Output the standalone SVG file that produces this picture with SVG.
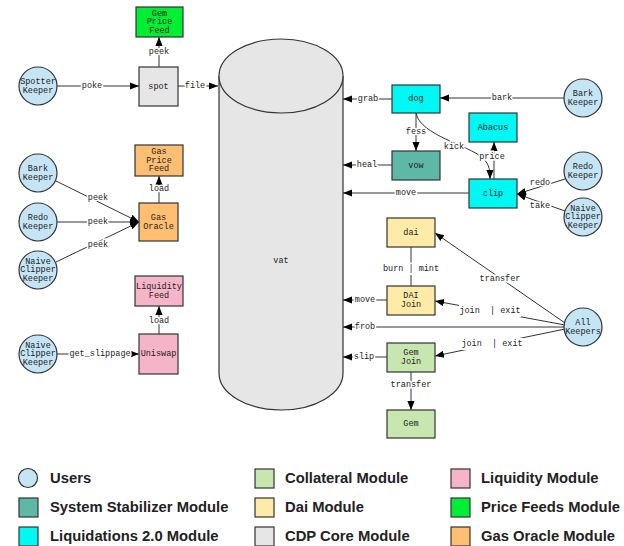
<svg xmlns="http://www.w3.org/2000/svg" width="624" height="546" viewBox="0 0 624 546">
<style>
.n{stroke:#333;stroke-width:1.2}
.t{font-family:"Liberation Mono",monospace;font-size:8.5px;fill:#222;text-anchor:middle;dominant-baseline:central}
.l{font-family:"Liberation Mono",monospace;font-size:8.5px;fill:#222;text-anchor:middle;dominant-baseline:central;stroke:#fff;stroke-width:3;paint-order:stroke;white-space:pre}
.bg{fill:#fff}
.e{fill:none;stroke:#333;stroke-width:1}
.a{marker-end:url(#ah)}
.lg{font-family:"Liberation Sans",Arial,sans-serif;font-size:14.8px;font-weight:bold;fill:#222;dominant-baseline:central}
.u{fill:#c5e5f6}.ss{fill:#5eb8a6}.lq{fill:#00f8f4}.co{fill:#c8e6b0}.da{fill:#ffeaa8}.cd{fill:#e6e6e6}.li{fill:#f5b4c8}.pf{fill:#00ee33}.go{fill:#ffbf73}
</style>
<defs>
<marker id="ah" viewBox="0 0 10 10" refX="10" refY="5" markerWidth="9" markerHeight="9" markerUnits="userSpaceOnUse" orient="auto"><path d="M0,1 L10,5 L0,9 z" fill="#000"/></marker>
</defs>
<g id="connectors">
<line class="e a" x1="57" y1="86" x2="139" y2="86"/>
<line class="e a" x1="178" y1="86" x2="218" y2="86"/>
<line class="e a" x1="159" y1="67" x2="159" y2="37"/>
<line class="e a" x1="159" y1="203" x2="159" y2="176"/>
<line class="e a" x1="56" y1="181" x2="139" y2="222"/>
<line class="e a" x1="57" y1="222" x2="139" y2="222"/>
<line class="e a" x1="56" y1="262" x2="139" y2="222"/>
<line class="e a" x1="159" y1="334" x2="159" y2="306"/>
<line class="e a" x1="57" y1="354" x2="139" y2="354"/>
<line class="e a" x1="392" y1="99" x2="343" y2="99"/>
<line class="e a" x1="564" y1="98" x2="440" y2="98"/>
<line class="e a" x1="416" y1="113" x2="416" y2="151"/>
<path class="e a" d="M416,113 C420,135 468,145 483,158 C490,165 490,172 490,179"/>
<line class="e a" x1="494" y1="179" x2="494" y2="142"/>
<line class="e a" x1="392" y1="165" x2="343" y2="165"/>
<line class="e a" x1="469" y1="193" x2="343" y2="193"/>
<line class="e a" x1="565" y1="179" x2="517" y2="194"/>
<line class="e a" x1="565" y1="211" x2="517" y2="194"/>
<line class="e" x1="411" y1="247" x2="411" y2="286"/>
<line class="e a" x1="387" y1="300" x2="343" y2="300"/>
<line class="e a" x1="565" y1="323" x2="435" y2="233"/>
<line class="e a" x1="565" y1="325" x2="435" y2="301"/>
<line class="e a" x1="564" y1="327" x2="343" y2="327"/>
<line class="e a" x1="565" y1="329" x2="435" y2="356"/>
<line class="e a" x1="387" y1="357" x2="343" y2="357"/>
<line class="e a" x1="411" y1="372" x2="411" y2="410"/>
<rect class="bg" x="383" y="263" width="56" height="12"/>
<rect class="bg" x="69" y="348" width="62" height="12"/>
<rect class="bg" x="459" y="305" width="62" height="12"/>
<rect class="bg" x="461" y="338" width="62" height="12"/>
<text class="l" x="92" y="86">poke</text>
<text class="l" x="195" y="86">file</text>
<text class="l" x="159" y="52">peek</text>
<text class="l" x="159" y="189">load</text>
<text class="l" x="98" y="198">peek</text>
<text class="l" x="98" y="222">peek</text>
<text class="l" x="98" y="245">peek</text>
<text class="l" x="159" y="321">load</text>
<text class="l" x="100" y="354">get_slippage</text>
<text class="l" x="368" y="99">grab</text>
<text class="l" x="502" y="98">bark</text>
<text class="l" x="416" y="132">fess</text>
<text class="l" x="454" y="147">kick</text>
<text class="l" x="492" y="157">price</text>
<text class="l" x="367" y="165">heal</text>
<text class="l" x="406" y="193">move</text>
<text class="l" x="540" y="183">redo</text>
<text class="l" x="540" y="206">take</text>
<text class="l" x="411" y="269">burn | mint</text>
<text class="l" x="365" y="300">move</text>
<text class="l" x="500" y="279">transfer</text>
<text class="l" x="490" y="311">join  | exit</text>
<text class="l" x="365" y="327">frob</text>
<text class="l" x="492" y="344">join  | exit</text>
<text class="l" x="364" y="357">slip</text>
<text class="l" x="411" y="385">transfer</text>
</g>
<g id="vat">
<path class="n cd" d="M219,76 L219,373 A62,37 0 0 0 343,373 L343,76"/>
<ellipse class="n cd" cx="281" cy="76" rx="62" ry="37"/>
<text class="t" x="281" y="261">vat</text>
</g>
<g id="gem-price-feed"><rect class="n pf" x="136" y="7" width="47" height="30"/><text class="t" x="159.5" y="13.5">Gem</text><text class="t" x="159.5" y="22">Price</text><text class="t" x="159.5" y="30.5">Feed</text></g>
<g id="spot"><rect class="n cd" x="139" y="67" width="39" height="39"/><text class="t" x="158.5" y="86.5">spot</text></g>
<g id="spotter-keeper"><circle class="n u" cx="38" cy="86" r="19"/><text class="t" x="38" y="82">Spotter</text><text class="t" x="38" y="90.5">Keeper</text></g>
<g id="gas-price-feed"><rect class="n go" x="135" y="145" width="48" height="31"/><text class="t" x="159" y="152">Gas</text><text class="t" x="159" y="160.5">Price</text><text class="t" x="159" y="169">Feed</text></g>
<g id="gas-oracle"><rect class="n go" x="139" y="203" width="39" height="38"/><text class="t" x="158.5" y="218">Gas</text><text class="t" x="158.5" y="226.5">Oracle</text></g>
<g id="bark-keeper-l"><circle class="n u" cx="38" cy="173" r="19"/><text class="t" x="38" y="169">Bark</text><text class="t" x="38" y="177.5">Keeper</text></g>
<g id="redo-keeper-l"><circle class="n u" cx="38" cy="222" r="19"/><text class="t" x="38" y="218">Redo</text><text class="t" x="38" y="226.5">Keeper</text></g>
<g id="naive-clipper-keeper-l1"><circle class="n u" cx="38" cy="270" r="19"/><text class="t" x="38" y="261.5">Naive</text><text class="t" x="38" y="270">Clipper</text><text class="t" x="38" y="278.5">Keeper</text></g>
<g id="liquidity-feed"><rect class="n li" x="135" y="276" width="48" height="30"/><text class="t" x="159" y="287">Liquidity</text><text class="t" x="159" y="295.5">Feed</text></g>
<g id="uniswap"><rect class="n li" x="139" y="334" width="39" height="40"/><text class="t" x="158.5" y="354">Uniswap</text></g>
<g id="naive-clipper-keeper-l2"><circle class="n u" cx="38" cy="354" r="19"/><text class="t" x="38" y="345.5">Naive</text><text class="t" x="38" y="354">Clipper</text><text class="t" x="38" y="362.5">Keeper</text></g>
<g id="dog"><rect class="n lq" x="392" y="85" width="48" height="28"/><text class="t" x="416" y="99">dog</text></g>
<g id="abacus"><rect class="n lq" x="469" y="113" width="48" height="29"/><text class="t" x="493" y="127.5">Abacus</text></g>
<g id="vow"><rect class="n ss" x="392" y="151" width="48" height="29"/><text class="t" x="416" y="165.5">vow</text></g>
<g id="clip"><rect class="n lq" x="469" y="179" width="48" height="29"/><text class="t" x="493" y="193.5">clip</text></g>
<g id="bark-keeper-r"><circle class="n u" cx="583" cy="98" r="19"/><text class="t" x="583" y="94">Bark</text><text class="t" x="583" y="102.5">Keeper</text></g>
<g id="redo-keeper-r"><circle class="n u" cx="583" cy="171" r="19"/><text class="t" x="583" y="167">Redo</text><text class="t" x="583" y="175.5">Keeper</text></g>
<g id="naive-clipper-keeper-r"><circle class="n u" cx="583" cy="217" r="19"/><text class="t" x="583" y="208.5">Naive</text><text class="t" x="583" y="217">Clipper</text><text class="t" x="583" y="225.5">Keeper</text></g>
<g id="dai"><rect class="n da" x="387" y="218" width="48" height="29"/><text class="t" x="411" y="232.5">dai</text></g>
<g id="dai-join"><rect class="n da" x="387" y="286" width="48" height="29"/><text class="t" x="411" y="296">DAI</text><text class="t" x="411" y="304.5">Join</text></g>
<g id="all-keepers"><circle class="n u" cx="583" cy="327" r="19"/><text class="t" x="583" y="323">All</text><text class="t" x="583" y="331.5">Keepers</text></g>
<g id="gem-join"><rect class="n co" x="387" y="343" width="48" height="29"/><text class="t" x="411" y="353">Gem</text><text class="t" x="411" y="361.5">Join</text></g>
<g id="gem"><rect class="n co" x="387" y="410" width="48" height="28"/><text class="t" x="411" y="424">Gem</text></g>
<g id="legend">
<circle class="n u" cx="28" cy="478" r="9.5"/><text class="lg" x="50" y="478">Users</text>
<rect class="n ss" x="19" y="498" width="19" height="19"/><text class="lg" x="50" y="507">System Stabilizer Module</text>
<rect class="n lq" x="19" y="527" width="19" height="19"/><text class="lg" x="50" y="536">Liquidations 2.0 Module</text>
<rect class="n co" x="255" y="469" width="19" height="19"/><text class="lg" x="285" y="478">Collateral Module</text>
<rect class="n da" x="255" y="498" width="19" height="19"/><text class="lg" x="285" y="507">Dai Module</text>
<rect class="n cd" x="255" y="527" width="19" height="19"/><text class="lg" x="285" y="536">CDP Core Module</text>
<rect class="n li" x="451" y="469" width="19" height="19"/><text class="lg" x="481" y="478">Liquidity Module</text>
<rect class="n pf" x="451" y="498" width="19" height="19"/><text class="lg" x="481" y="507">Price Feeds Module</text>
<rect class="n go" x="451" y="527" width="19" height="19"/><text class="lg" x="481" y="536">Gas Oracle Module</text>
</g>
</svg>
